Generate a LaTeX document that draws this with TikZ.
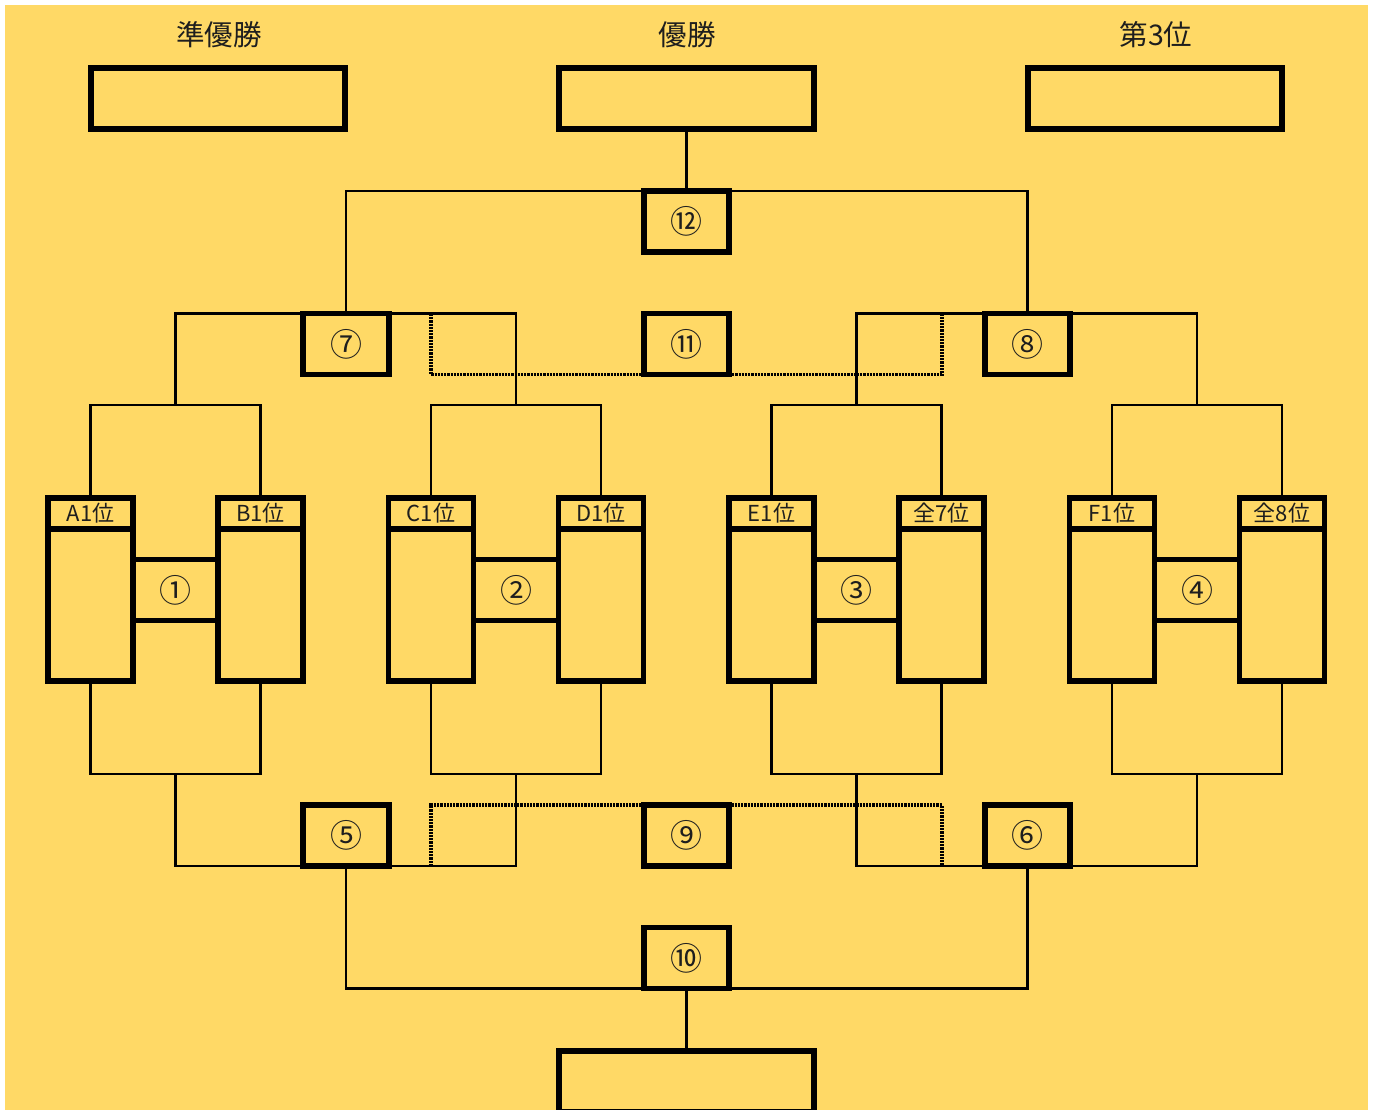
\documentclass[tikz,border=0pt]{standalone}
\usepackage{fontspec}
\setmainfont{Noto Sans CJK JP}
\definecolor{bg}{RGB}{255,217,102}
\definecolor{ink}{RGB}{30,30,30}
\pgfdeclarelayer{back}
\pgfdeclarelayer{lines}
\pgfsetlayers{back,lines,main}
\begin{document}
\begin{tikzpicture}[x=1pt,y=-1pt,
  conn/.style={line width=2.6pt},
  dotline/.style={line width=3.2pt, dash pattern=on 2.2pt off 1pt},
  bigbox/.style={draw, line width=6pt, fill=bg, minimum width=254.5pt, minimum height=61pt, inner sep=0pt, outer sep=0pt},
  mbox/.style={draw, line width=5.6pt, fill=bg, minimum width=85.5pt, minimum height=61pt, inner sep=0pt, outer sep=0pt, font=\fontsize{32}{32}\selectfont, text=ink},
  thead/.style={draw, line width=5.6pt, fill=bg, minimum width=85pt, minimum height=31pt, inner sep=0pt, outer sep=0pt, font=\fontsize{22}{22}\selectfont, text=ink},
  tbody/.style={draw, line width=5.6pt, fill=bg, minimum width=85pt, minimum height=152pt, inner sep=0pt, outer sep=0pt},
  title/.style={font=\fontsize{28.5}{28.5}\selectfont, text=ink, inner sep=0pt}]
\useasboundingbox (0,0) rectangle (1373,1110);
\clip (0,0) rectangle (1373,1110);
\begin{pgfonlayer}{back}
  \fill[bg] (5,5) rectangle (1368,1112);
\end{pgfonlayer}
% titles and result boxes
\node[title] (t1) at (219,35) {準優勝};
\node[title] (t2) at (687,35) {優勝};
\node[title] (t3) at (1156,35) {第3位};
\node[bigbox] (T1) at (218,98.5) {};
\node[bigbox] (T2) at (686.5,98.5) {};
\node[bigbox] (T3) at (1155,98.5) {};
\node[bigbox] (bot) at (686.5,1081) {};
% match boxes
\node[mbox] (n12) at (686.5,221.5) {⑫};
\node[mbox] (n7) at (346,344) {⑦};
\node[mbox] (n11) at (686.5,344) {⑪};
\node[mbox] (n8) at (1027.5,344) {⑧};
\node[mbox] (n5) at (346,835.5) {⑤};
\node[mbox] (n9) at (686.5,835.5) {⑨};
\node[mbox] (n6) at (1027.5,835.5) {⑥};
\node[mbox] (n10) at (686.5,958) {⑩};
\coordinate (d1) at (431,314);
\coordinate (d2) at (942,314);
\coordinate (d3) at (431,866);
\coordinate (d4) at (942,866);
% first round
\foreach \i/\la/\lb/\m in {0/A1位/B1位/①,1/C1位/D1位/②,2/E1位/全7位/③,3/F1位/全8位/④}{
  \pgfmathsetmacro\xa{90.5+340.5*\i}
  \pgfmathsetmacro\xb{\xa+170}
  \pgfmathsetmacro\xm{\xa+85}
  \coordinate (q\i) at (\xm,405);
  \coordinate (r\i) at (\xm,774);
  \node[mbox] (m\i) at (\xm,590) {\m};
  \node[tbody] (ba\i) at (\xa,605) {};
  \node[tbody] (bb\i) at (\xb,605) {};
  \node[thead] (ha\i) at (\xa,513.5) {\la};
  \node[thead] (hb\i) at (\xb,513.5) {\lb};
  \begin{pgfonlayer}{lines}
    \draw[conn] (ha\i.north) |- (q\i) -| (hb\i.north);
    \draw[conn] (ba\i.south) |- (r\i) -| (bb\i.south);
  \end{pgfonlayer}
}
\begin{pgfonlayer}{lines}
  \draw[conn] (q0) |- (n7.north) -| (q1);
  \draw[conn] (q2) |- (n8.north) -| (q3);
  \draw[conn] (n7.north) |- (n12.north) -| (n8.north);
  \draw[conn] (T2.south) -- (n12.north);
  \draw[conn] (r0) |- (n5.south) -| (r1);
  \draw[conn] (r2) |- (n6.south) -| (r3);
  \draw[conn] (n5.south) |- (n10.south) -| (n6.south);
  \draw[conn] (n10.south) -- (bot.north);
  \draw[dotline] (d1) |- (n11.south) -| (d2);
  \draw[dotline] (d3) |- (n9.north) -| (d4);
\end{pgfonlayer}
\end{tikzpicture}
\end{document}
